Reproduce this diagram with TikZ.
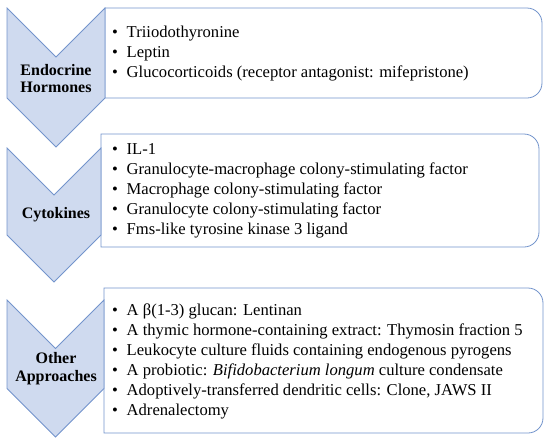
\documentclass[tikz,border=0pt]{standalone}
\usepackage{fontspec}
\setmainfont{Liberation Serif}
\definecolor{chevfill}{HTML}{CFDAEF}
\definecolor{chevline}{HTML}{7394CC}
\newcommand{\itm}{\makebox[14.5pt][l]{\textbullet}}
% chevron: left, right, top, tip
\newcommand{\chevron}[4]{%
  \draw[chev] (#1,#3) -- ({(#1+#2)/2},{#3+(#2-#1)/2}) -- (#2,#3)
    -- (#2,{#4-(#2-#1)/2}) -- ({(#1+#2)/2},#4) -- (#1,{#4-(#2-#1)/2}) -- cycle;}

\begin{document}
\begin{tikzpicture}[
  x=1pt, y=-1pt,
  chev/.style={draw=chevline, fill=chevfill, line width=0.8pt},
  box/.style={draw=chevline, fill=white, line width=0.8pt},
  head/.style={font=\fontsize{16}{17.5}\selectfont\bfseries, align=center, inner sep=0pt},
  items/.style={font=\fontsize{16.6}{20}\selectfont, align=left, anchor=west, inner sep=0pt}
]
\useasboundingbox (0,0) rectangle (550,445);

% Boxes (right corners rounded)
\draw[box] (105,8) [rounded corners=15pt] -- (542,8) -- (542,98) [sharp corners] -- (105,98) -- cycle;
\draw[box] (101,134) [rounded corners=15pt] -- (539,134) -- (539,247) [sharp corners] -- (101,247) -- cycle;
\draw[box] (104,288) [rounded corners=15pt] -- (543,288) -- (543,433) [sharp corners] -- (104,433) -- cycle;

% Chevrons
\chevron{7}{105}{8}{147}
\chevron{7}{101}{148}{282}
\chevron{7}{104}{300}{437}

% Headings
\node[head] (endo) at (56,78.5)  {Endocrine\\Hormones};
\node[head] (cyto) at (56,214.5) {Cytokines};
\node[head] (other) at (56,368.5) {Other\\Approaches};

% Lists
\node[items] (endolist) at (112,53.5) {\itm Triiodothyronine\\
  \itm Leptin\\
  \itm Glucocorticoids (receptor antagonist: mifepristone)};
\node[items] (cytolist) at (112,191) {\itm IL-1\\
  \itm Granulocyte-macrophage colony-stimulating factor\\
  \itm Macrophage colony-stimulating factor\\
  \itm Granulocyte colony-stimulating factor\\
  \itm Fms-like tyrosine kinase 3 ligand};
\node[items] (otherlist) at (112,361.5) {\itm A β(1-3) glucan: Lentinan\\
  \itm A thymic hormone-containing extract: Thymosin fraction 5\\
  \itm Leukocyte culture fluids containing endogenous pyrogens\\
  \itm A probiotic: \textit{Bifidobacterium longum} culture condensate\\
  \itm Adoptively-transferred dendritic cells: Clone, JAWS II\\
  \itm Adrenalectomy};

\end{tikzpicture}
\end{document}
